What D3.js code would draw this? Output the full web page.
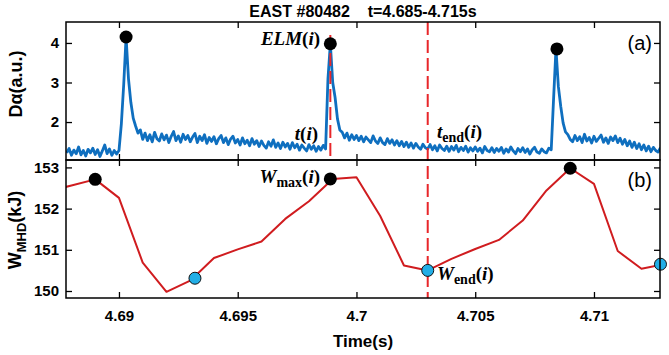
<!DOCTYPE html>
<html><head><meta charset="utf-8">
<script src="https://cdn.jsdelivr.net/npm/d3@7"></script>
<style>body{margin:0;background:#fff}svg{display:block}</style>
</head><body>
<svg id="c" width="669" height="355"></svg>
<script>
// ---------- data ----------
const titleText = "EAST #80482    t=4.685-4.715s";
const dalphaStart = 4.6878, dalphaStep = 0.0001;
const dalphaValues = [
1.22,1.33,
1.16,1.29,1.20,1.37,1.17,1.28,1.14,1.31,1.22,1.34,
1.18,1.30,1.13,1.27,1.42,1.20,1.32,1.16,1.28,1.19,
1.28,1.95,2.95,4.15,3.10,2.50,2.10,1.90,1.72,1.80,
1.56,1.72,1.53,1.68,1.50,1.74,1.58,1.52,1.70,1.55,
1.67,1.48,1.64,1.76,1.53,1.65,1.49,1.69,1.56,1.66,
1.50,1.62,1.71,1.48,1.64,1.53,1.68,1.46,1.61,1.51,
1.63,1.45,1.58,1.66,1.48,1.60,1.43,1.57,1.64,1.47,
1.56,1.42,1.60,1.45,1.54,1.40,1.58,1.44,1.53,1.38,
1.52,1.41,1.34,1.50,1.39,1.55,1.36,1.47,1.33,1.49,
1.37,1.46,1.31,1.48,1.35,1.44,1.29,1.42,1.34,1.27,
1.43,1.31,1.40,1.26,1.38,1.29,1.41,1.32,3.10,3.98,
3.00,2.62,2.08,1.80,1.74,1.60,1.72,1.54,1.68,1.56,
1.66,1.53,1.64,1.50,1.62,1.55,1.48,1.65,1.52,1.46,
1.60,1.48,1.43,1.58,1.46,1.55,1.42,1.53,1.40,1.51,
1.38,1.49,1.36,1.47,1.34,1.46,1.37,1.31,1.44,1.35,
1.32,1.43,1.30,1.40,1.27,1.42,1.33,1.28,1.39,1.26,
1.38,1.29,1.41,1.25,1.36,1.28,1.39,1.24,1.35,1.27,
1.37,1.26,1.34,1.22,1.38,1.28,1.25,1.35,1.23,1.33,
1.26,1.36,1.21,1.32,1.24,1.37,1.27,1.20,1.33,1.25,
1.35,1.23,1.32,1.19,1.30,1.36,1.24,1.21,1.32,1.25,
1.22,1.34,1.30,2.60,3.85,2.90,2.40,1.98,1.75,1.68,
1.56,1.50,1.66,1.53,1.63,1.48,1.69,1.52,1.61,1.47,
1.64,1.51,1.59,1.67,1.49,1.60,1.46,1.62,1.53,1.65,
1.48,1.59,1.44,1.56,1.40,1.52,1.36,1.49,1.33,1.45,
1.30,1.42,1.27,1.39,1.25,1.36,1.28,1.24,1.35
];
const elmPeakTimes  = [4.6903, 4.6989, 4.70844];
const elmPeakValues = [4.15, 3.98, 3.85];

const wTimes  = [4.687,4.688,4.689,4.690,4.691,4.692,4.693,4.694,4.695,4.696,4.697,4.698,4.699,
                 4.700,4.701,4.702,4.703,4.704,4.705,4.706,4.707,4.708,4.709,4.710,4.711,4.712,4.713];
const wValues = [152.42,152.56,152.71,152.26,150.69,149.98,150.25,150.80,151.01,151.20,151.75,152.18,152.72,
                 152.76,151.82,150.62,150.50,150.78,151.02,151.24,151.71,152.44,152.98,152.60,150.97,150.54,150.66];
const wMaxTimes  = [4.689, 4.6989, 4.709];
const wMaxValues = [152.71, 152.72, 152.98];
const wEndTimes  = [4.6932, 4.703, 4.7128];
const wEndValues = [150.31, 150.50, 150.65];

const xTicks = [4.69, 4.695, 4.7, 4.705, 4.71];
const xTickLabels = ["4.69", "4.695", "4.7", "4.705", "4.71"];
const dTicks = [2, 3, 4];
const wTicks = [150, 151, 152, 153];
const tElm = 4.6989, tEnd = 4.703;

// ---------- layout ----------
const L = 66, R = 660, T1 = 22, B1 = 160, T2 = 160, B2 = 298;
const svg = d3.select("#c");
const x = d3.scaleLinear().domain([4.68777, 4.71278]).range([L, R]);
const yD = d3.scaleLinear().domain([1.04, 4.53]).range([B1, T1]);
const yW = d3.scaleLinear().domain([149.83, 153.18]).range([B2, T2]);

const blue = "#0f6fbf", red = "#d01c1f", dash = "#e8262a", cyan = "#22aee6";
const sans = "'Liberation Sans', Arial, sans-serif";
const serif = "'Liberation Serif', 'Times New Roman', serif";

const defs = svg.append("defs");
defs.append("clipPath").attr("id","c1").append("rect").attr("x",L).attr("y",T1).attr("width",R-L).attr("height",B1-T1);
defs.append("clipPath").attr("id","c2").append("rect").attr("x",L).attr("y",T2).attr("width",R-L).attr("height",B2-T2);

// ---------- panel (a) ----------
const dData = dalphaValues.map((v,i)=>({t: dalphaStart + i*dalphaStep, v}));
svg.append("path").datum(dData).attr("clip-path","url(#c1)")
  .attr("fill","none").attr("stroke",blue).attr("stroke-width",2.8).attr("stroke-linejoin","round")
  .attr("d", d3.line().x(d=>x(d.t)).y(d=>yD(d.v)));

// ELM(i) time marker
svg.append("line").attr("x1",x(tElm)).attr("x2",x(tElm)).attr("y1",yD(4.2)).attr("y2",B1)
  .attr("stroke",dash).attr("stroke-width",2).attr("stroke-dasharray","13,5");

svg.selectAll(".pk").data(elmPeakTimes).join("circle")
  .attr("cx",d=>x(d)).attr("cy",(d,i)=>yD(elmPeakValues[i])).attr("r",6.5).attr("fill","#000");

// ---------- panel (b) ----------
const wData = wTimes.map((t,i)=>({t, v: wValues[i]}));
svg.append("path").datum(wData).attr("clip-path","url(#c2)")
  .attr("fill","none").attr("stroke",red).attr("stroke-width",2).attr("stroke-linejoin","round")
  .attr("d", d3.line().x(d=>x(d.t)).y(d=>yW(d.v)));

// t_end dashed line across both panels
svg.append("line").attr("x1",x(tEnd)).attr("x2",x(tEnd)).attr("y1",T1).attr("y2",B2)
  .attr("stroke",dash).attr("stroke-width",2).attr("stroke-dasharray","13,5");

svg.selectAll(".wmax").data(wMaxTimes).join("circle")
  .attr("cx",d=>x(d)).attr("cy",(d,i)=>yW(wMaxValues[i])).attr("r",6.5).attr("fill","#000");
svg.selectAll(".wend").data(wEndTimes).join("circle")
  .attr("cx",d=>x(d)).attr("cy",(d,i)=>yW(wEndValues[i])).attr("r",6).attr("fill",cyan)
  .attr("stroke","#111").attr("stroke-width",1);

// ---------- axes ----------
function styleAxis(g){
  g.select(".domain").remove();
  g.selectAll(".tick line").attr("stroke","#000").attr("stroke-width",1.3);
  g.selectAll(".tick text").attr("fill","#000").attr("font-family",sans).attr("font-weight","bold").attr("font-size",15);
}
// panel a
svg.append("g").attr("transform",`translate(${L},0)`)
  .call(d3.axisLeft(yD).tickValues(dTicks).tickSize(-6).tickPadding(7).tickFormat(d3.format("d"))).call(styleAxis);
svg.append("g").attr("transform",`translate(${R},0)`)
  .call(d3.axisRight(yD).tickValues(dTicks).tickSize(-6).tickFormat("")).call(styleAxis);
svg.append("g").attr("transform",`translate(0,${B1})`)
  .call(d3.axisBottom(x).tickValues(xTicks).tickSize(-6).tickFormat("")).call(styleAxis);
svg.append("g").attr("transform",`translate(0,${T1})`)
  .call(d3.axisTop(x).tickValues(xTicks).tickSize(-6).tickFormat("")).call(styleAxis);
// panel b
svg.append("g").attr("transform",`translate(${L},0)`)
  .call(d3.axisLeft(yW).tickValues(wTicks).tickSize(-6).tickPadding(7).tickFormat(d3.format("d"))).call(styleAxis);
svg.append("g").attr("transform",`translate(${R},0)`)
  .call(d3.axisRight(yW).tickValues(wTicks).tickSize(-6).tickFormat("")).call(styleAxis);
svg.append("g").attr("transform",`translate(0,${B2})`)
  .call(d3.axisBottom(x).tickValues(xTicks).tickSize(-6).tickPadding(12).tickFormat((d,i)=>xTickLabels[i])).call(styleAxis);
svg.append("g").attr("transform",`translate(0,${T2})`)
  .call(d3.axisTop(x).tickValues(xTicks).tickSize(-6).tickFormat("")).call(styleAxis);

// frames
svg.append("rect").attr("x",L).attr("y",T1).attr("width",R-L).attr("height",B1-T1)
  .attr("fill","none").attr("stroke","#000").attr("stroke-width",1.5);
svg.append("rect").attr("x",L).attr("y",T2).attr("width",R-L).attr("height",B2-T2)
  .attr("fill","none").attr("stroke","#000").attr("stroke-width",1.5);

// ---------- texts ----------
svg.append("text").attr("x",(L+R)/2).attr("y",17).attr("text-anchor","middle")
  .attr("font-family",sans).attr("font-weight","bold").attr("font-size",16)
  .style("white-space","pre").text(titleText);

svg.append("text").attr("transform","translate(22,84) rotate(-90)").attr("text-anchor","middle")
  .attr("font-family",sans).attr("font-weight","bold").attr("font-size",18).text("Dα(a.u.)");

const wl = svg.append("text").attr("transform","translate(21,230) rotate(-90)").attr("text-anchor","middle")
  .attr("font-family",sans).attr("font-weight","bold").attr("font-size",18);
wl.append("tspan").text("W");
wl.append("tspan").attr("font-size",13).attr("dy",5).text("MHD");
wl.append("tspan").attr("dy",-5).text("(kJ)");

svg.append("text").attr("x",(L+R)/2).attr("y",347).attr("text-anchor","middle")
  .attr("font-family",sans).attr("font-weight","bold").attr("font-size",17).text("Time(s)");

svg.append("text").attr("x",652).attr("y",50).attr("text-anchor","end")
  .attr("font-family",sans).attr("font-size",20).text("(a)");
svg.append("text").attr("x",652).attr("y",187).attr("text-anchor","end")
  .attr("font-family",sans).attr("font-size",20).text("(b)");

function mathLabel(xp, yp, parts, anchor){
  const t = svg.append("text").attr("x",xp).attr("y",yp).attr("text-anchor",anchor||"start")
    .attr("font-family",serif).attr("font-weight","bold").attr("font-size",19);
  parts.forEach(p=>{
    const s = t.append("tspan").text(p.s);
    if(p.it) s.attr("font-style","italic");
    if(p.sub){ s.attr("font-size",14).attr("dy",4); }
    if(p.up){ s.attr("dy",-4); }
  });
}
mathLabel(320, 45, [{s:"ELM",it:1},{s:"("},{s:"i",it:1},{s:")"}], "end");
mathLabel(318, 140, [{s:"t",it:1},{s:"("},{s:"i",it:1},{s:")"}], "end");
mathLabel(437, 138, [{s:"t",it:1},{s:"end",sub:1},{s:"(",up:1},{s:"i",it:1},{s:")"}]);
mathLabel(320, 183, [{s:"W",it:1},{s:"max",sub:1},{s:"(",up:1},{s:"i",it:1},{s:")"}], "end");
mathLabel(437, 280, [{s:"W",it:1},{s:"end",sub:1},{s:"(",up:1},{s:"i",it:1},{s:")"}]);
</script>
</body></html>
